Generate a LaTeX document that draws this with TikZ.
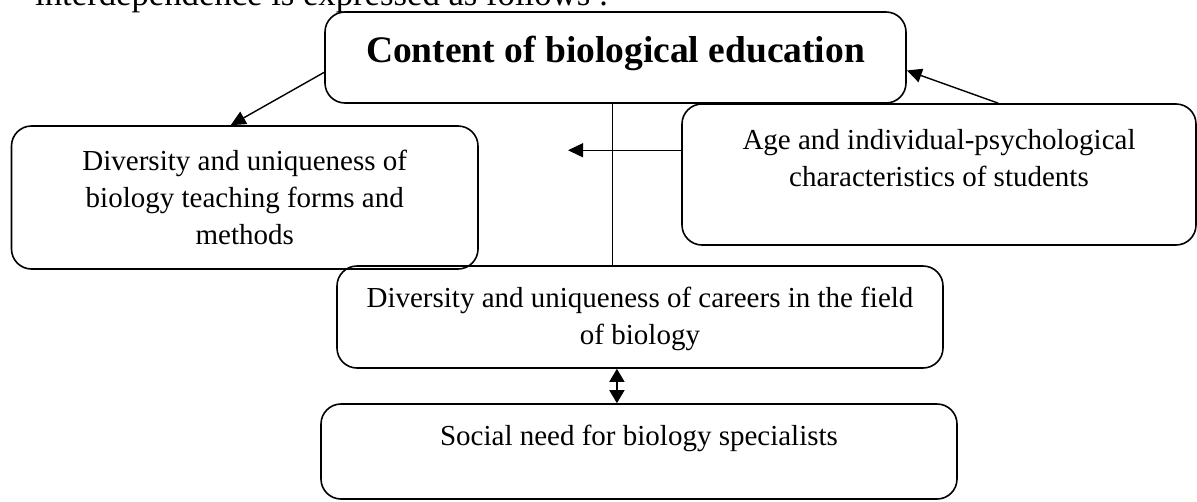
\documentclass[tikz,border=0pt]{standalone}
\usepackage{fontspec}
\setmainfont{Liberation Serif}
\usetikzlibrary{calc,arrows.meta,positioning}

\begin{document}
\begin{tikzpicture}[x=1pt,y=-1pt,
    box/.style={draw,line width=1.6pt,rounded corners=20pt,inner sep=0pt},
    boxtext/.style={align=center,inner sep=0pt,font=\fontsize{29}{37}\selectfont},
    tip/.style={line width=1.4pt,-{Triangle[length=15pt,width=14pt]}}]
            \useasboundingbox(0,0)rectangle(1197,501);
            \clip(0,0)rectangle(1197,501);
            \node[anchor=base west,inner sep=0pt,font=\fontsize{34.7}{40}\selectfont](intro)at(35,5){interdependence is expressed as follows :};
            %枠
            \node[box,minimum width=581pt,minimum height=91pt](content)at(615.5,57.5){};
            \node[box,minimum width=466.5pt,minimum height=143pt](teaching)at(244.75,197.5){};
            \node[box,minimum width=514pt,minimum height=141pt](age)at(939,174.5){};
            \node[box,minimum width=606pt,minimum height=102pt](careers)at(640,317){};
            \node[box,minimum width=636pt,minimum height=95pt](social)at(639,451.5){};
            %文字
            \node[inner sep=0pt,font=\fontsize{37.5}{44}\selectfont\bfseries](content text)at([yshift=4.5pt]content.center){Content of biological education};
            \node[boxtext](teaching text)at(teaching.center){Diversity and uniqueness of\\biology teaching forms and\\methods};
            \node[boxtext](age text)at([yshift=16pt]age.center){Age and individual-psychological\\characteristics of students};
            \node[boxtext](careers text)at([yshift=-1.5pt]careers.center){Diversity and uniqueness of careers in the field\\of biology};
            \node[boxtext](social text)at([yshift=13.5pt]social.center){Social need for biology specialists};
            %矢印
            \coordinate(A)at($(content.north west)!0.66!(content.south west)$);
            \coordinate(B)at($(teaching.north west)!0.47!(teaching.north east)$);
            \coordinate(C)at($(age.north west)!0.615!(age.north east)$);
            \coordinate(D)at($(content.north east)!0.64!(content.south east)$);
            \coordinate(E)at($(age.north west)!0.33!(age.south west)$);
            \coordinate(F)at(568,0|-E);
            \path[draw,tip](A)to(B);
            \path[draw,tip](C)to(D);
            \path[draw,tip](E)to(F);
            %縦の線
            \coordinate(G)at($(content.south west)!0.495!(content.south east)$);
            \path[draw,line width=1.4pt](G)to(G|-careers.north);
            \coordinate(H)at($(careers.south west)!0.462!(careers.south east)$);
            \path[draw,line width=1.4pt,{Triangle[length=13pt,width=15pt]}-{Triangle[length=13pt,width=15pt]}](H)to(H|-social.north);
        \end{tikzpicture}
\end{document}
